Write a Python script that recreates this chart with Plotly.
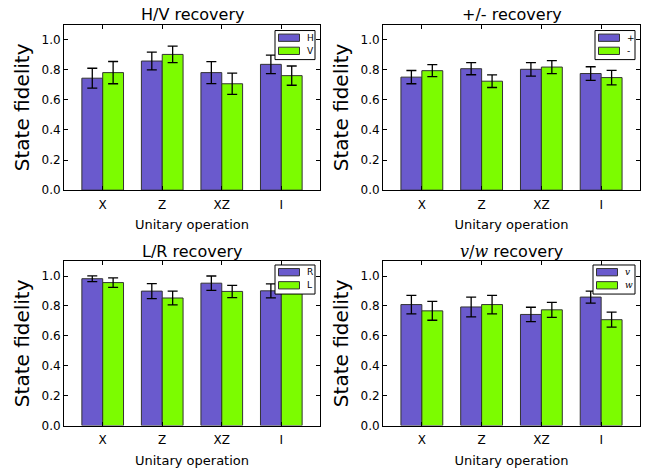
import plotly.graph_objects as go

ops = ["X", "Z", "XZ", "I"]

SERIF = "<span style='font-family:DejaVu Serif'><i>{}</i></span>"
titles = ["H/V recovery", "+/- recovery", "L/R recovery",
          SERIF.format("v") + SERIF.format("/") .replace("<i>/</i>", "/") + SERIF.format("w") + " recovery"]
names_a = ["H", "+", "R", SERIF.format("v")]
names_b = ["V", "-", "L", SERIF.format("w")]

hv_h = [0.744, 0.858, 0.781, 0.836]
hv_h_err = [0.066, 0.059, 0.073, 0.061]
hv_v = [0.781, 0.902, 0.707, 0.761]
hv_v_err = [0.074, 0.055, 0.071, 0.064]

pm_p = [0.751, 0.807, 0.803, 0.775]
pm_p_err = [0.044, 0.040, 0.045, 0.045]
pm_m = [0.794, 0.724, 0.818, 0.748]
pm_m_err = [0.040, 0.042, 0.043, 0.048]

lr_r = [0.982, 0.899, 0.952, 0.901]
lr_r_err = [0.019, 0.050, 0.048, 0.047]
lr_l = [0.956, 0.853, 0.897, 0.930]
lr_l_err = [0.032, 0.046, 0.041, 0.040]

vw_v = [0.809, 0.793, 0.743, 0.859]
vw_v_err = [0.062, 0.066, 0.048, 0.040]
vw_w = [0.767, 0.809, 0.774, 0.708]
vw_w_err = [0.063, 0.062, 0.050, 0.050]

series = [
    (hv_h, hv_h_err, hv_v, hv_v_err),
    (pm_p, pm_p_err, pm_m, pm_m_err),
    (lr_r, lr_r_err, lr_l, lr_l_err),
    (vw_v, vw_v_err, vw_w, vw_w_err),
]

W, H = 653, 470
# plot areas in pixels: (left, right, top, bottom)
areas = [(64, 320, 25, 193), (383, 640, 25, 193),
         (64, 320, 265, 432), (383, 640, 265, 432)]
# legend boxes (left, right, top)
leg_box = [(275, 315, 31), (595, 635, 31), (275, 315, 269), (593, 635, 269)]

PURPLE = "#6A5ACD"
GREEN = "#7CFC00"
EDGE = "#333333"
FONT = "DejaVu Sans"

fig = go.Figure()
shapes = []
annotations = []
layout = dict(
    width=W, height=H, margin=dict(l=0, r=0, t=0, b=0),
    paper_bgcolor="white", plot_bgcolor="white",
    barmode="group", bargap=0.3, bargroupgap=0.0,
    font=dict(family=FONT, size=12, color="black"),
    showlegend=False,
)


def px(x):
    return x / W


def py(y):
    return 1 - y / H


xpos = list(range(len(ops)))
for i, (a, ae, b, be) in enumerate(series):
    ax = "" if i == 0 else str(i + 1)
    for vals, errs, name, col in ((a, ae, names_a[i], PURPLE), (b, be, names_b[i], GREEN)):
        fig.add_trace(go.Bar(
            x=xpos, y=vals, name=name,
            xaxis="x" + ax, yaxis="y" + ax,
            marker=dict(color=col, line=dict(color=EDGE, width=1)),
            error_y=dict(type="data", array=errs, color="black", thickness=1.3, width=5),
        ))
    l, r, t, bt = areas[i]
    common = dict(showline=True, linecolor="black", linewidth=1, mirror="allticks",
                  ticks="inside", ticklen=4, tickwidth=1, tickcolor="black",
                  showgrid=False, zeroline=False,
                  tickfont=dict(family=FONT, size=12))
    layout["xaxis" + ax] = dict(domain=[px(l), px(r)], range=[-0.65, 3.65], tickmode="array",
                                tickvals=xpos, ticktext=ops, anchor="y" + ax,
                                ticklabelstandoff=3,
                                title=dict(text="Unitary operation", font=dict(size=13), standoff=9),
                                **common)
    layout["yaxis" + ax] = dict(domain=[py(bt), py(t)], range=[0, 1.1], tickmode="array",
                                tickvals=[0, 0.2, 0.4, 0.6, 0.8, 1.0], tickformat=".1f",
                                anchor="x" + ax,
                                title=dict(text="State fidelity", font=dict(size=20), standoff=6),
                                **common)
    annotations.append(dict(
        text=titles[i], x=px((l + r) / 2), y=py(t - 10), xref="paper", yref="paper",
        showarrow=False, font=dict(family=FONT, size=16), xanchor="center", yanchor="middle"))

    # legend box
    bl, br, btop = leg_box[i]
    shapes.append(dict(type="rect", xref="paper", yref="paper", layer="above",
                       x0=px(bl), x1=px(br), y0=py(btop), y1=py(btop + 29.5),
                       fillcolor="white", line=dict(color="black", width=1)))
    for k, (name, col) in enumerate(((names_a[i], PURPLE), (names_b[i], GREEN))):
        cy = btop + 7.3 + 13.3 * k
        shapes.append(dict(type="rect", xref="paper", yref="paper", layer="above",
                           x0=px(bl + 3.5), x1=px(bl + 24.5), y0=py(cy - 3.7), y1=py(cy + 3.7),
                           fillcolor=col, line=dict(color=EDGE, width=1)))
        annotations.append(dict(text=name, x=px(bl + 30), y=py(cy), xref="paper", yref="paper",
                                showarrow=False, xanchor="left", yanchor="middle",
                                font=dict(family=FONT, size=9)))

layout["shapes"] = shapes
layout["annotations"] = annotations
fig.update_layout(**layout)
fig.write_html("out.html")
